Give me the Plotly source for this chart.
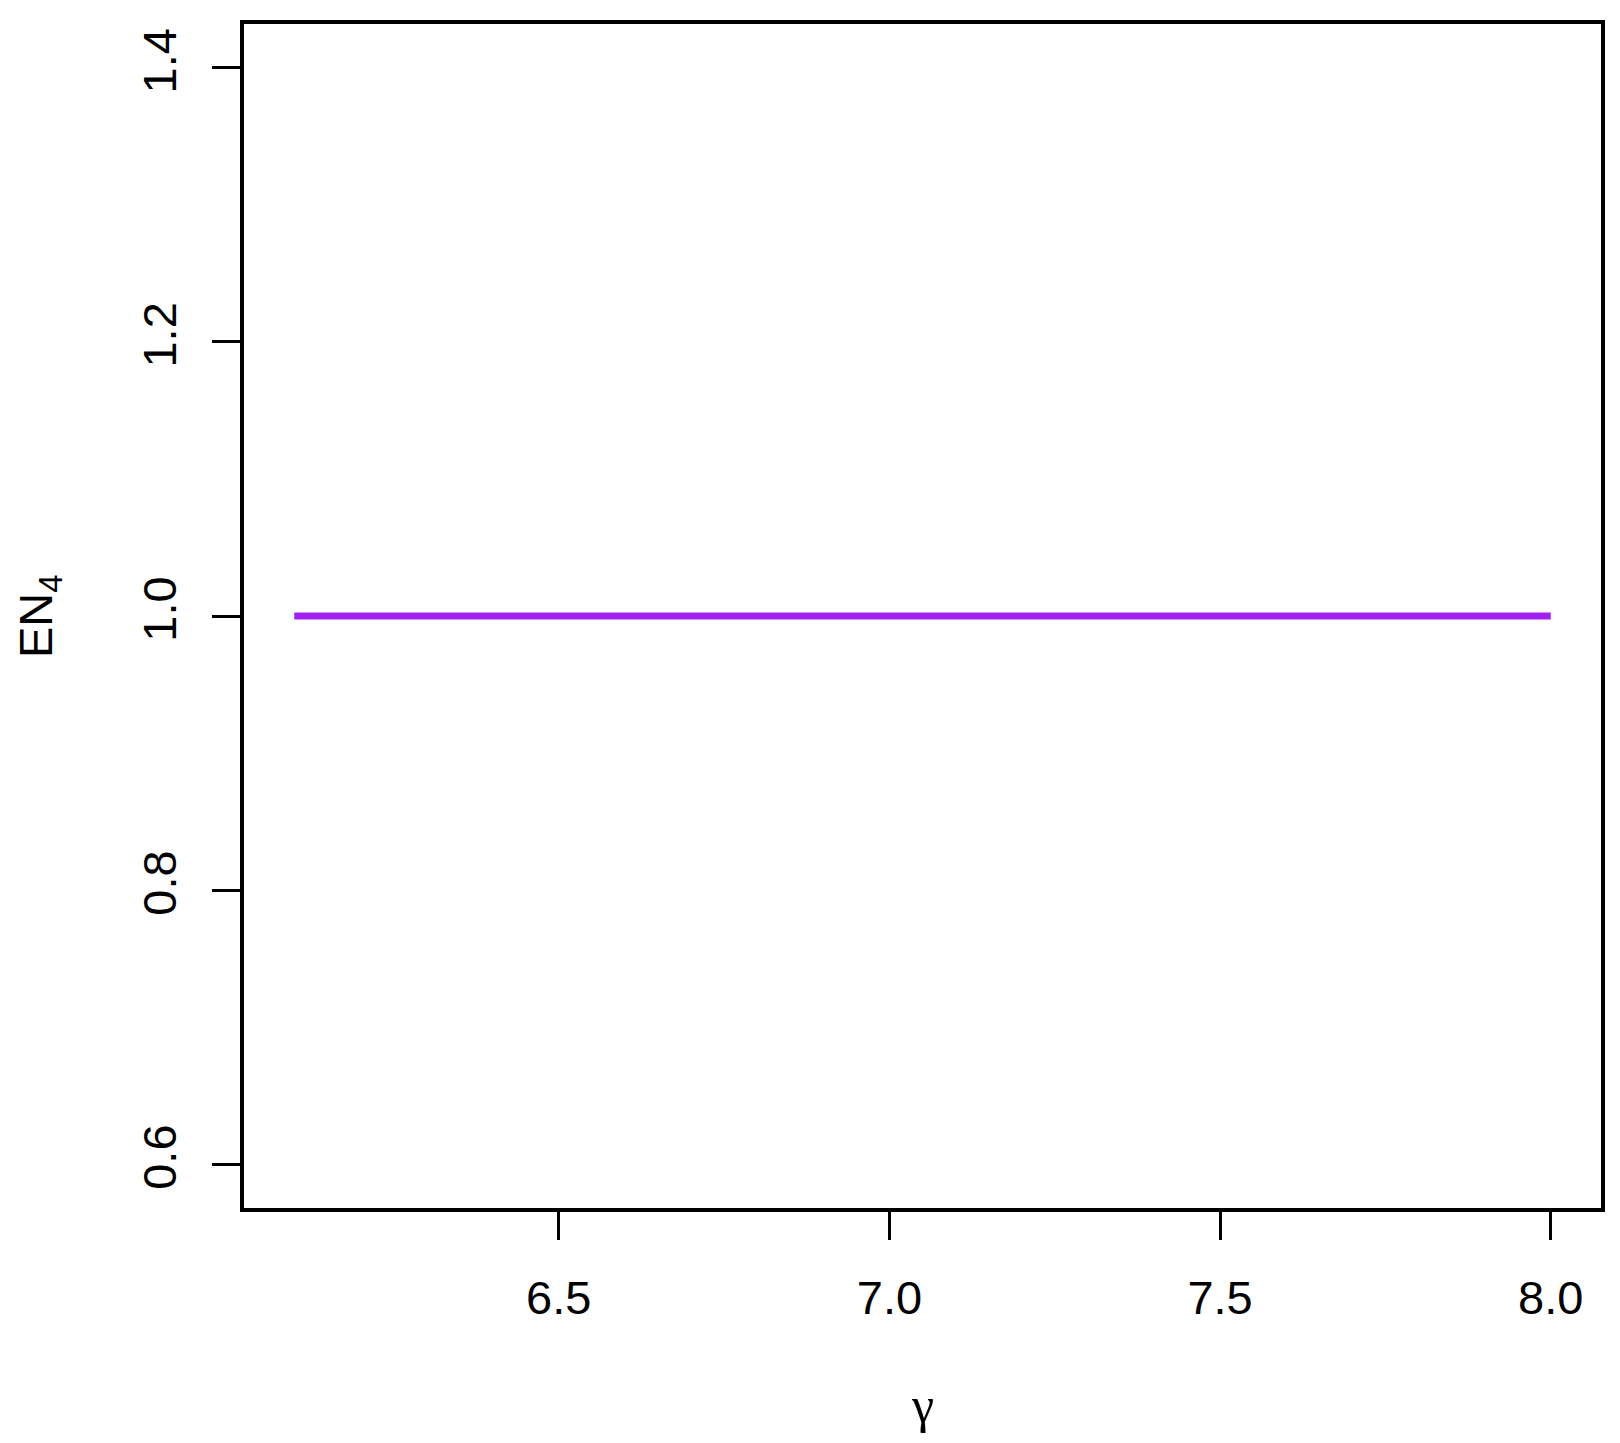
import plotly.graph_objects as go

# data
gamma = [6.1, 6.5, 7.0, 7.5, 8.0]
en4 = [1.0, 1.0, 1.0, 1.0, 1.0]

x_ticks = [6.5, 7.0, 7.5, 8.0]
x_labels = ["6.5", "7.0", "7.5", "8.0"]
y_ticks = [0.6, 0.8, 1.0, 1.2, 1.4]
y_labels = ["0.6", "0.8", "1.0", "1.2", "1.4"]

fig = go.Figure()
fig.add_trace(go.Scatter(x=gamma, y=en4, mode="lines",
                         line=dict(color="#A020F0", width=7), showlegend=False))

axis_common = dict(showgrid=False, zeroline=False, showline=True, linecolor="black",
                   linewidth=3.5, mirror=True, ticks="outside", ticklen=28, tickwidth=3,
                   tickcolor="black", tickfont=dict(family="Liberation Sans", size=47, color="black"))

fig.update_xaxes(range=[6.024, 8.076], tickvals=x_ticks, ticktext=x_labels,
                 ticklabelstandoff=18, **axis_common)
fig.update_yaxes(range=[0.568, 1.432], tickvals=y_ticks, ticktext=y_labels,
                 tickangle=-90, ticklabelstandoff=17, **axis_common)

# axis titles
fig.add_annotation(text="γ", xref="paper", yref="paper", x=0.5, y=-0.166,
                   showarrow=False, yanchor="middle",
                   font=dict(family="Liberation Serif", size=50, color="black"))
fig.add_annotation(text="EN<sub>4</sub>", xref="paper", yref="paper", x=-0.151, y=0.5,
                   showarrow=False, textangle=-90, xanchor="center", yanchor="middle",
                   font=dict(family="Liberation Sans", size=47, color="black"))

# the page body adds an 8px offset, so margins are shifted to compensate
fig.update_layout(width=1620, height=1443, plot_bgcolor="white", paper_bgcolor="white",
                  margin=dict(l=236, r=27, t=14, b=243))

fig.write_html("out.html")
